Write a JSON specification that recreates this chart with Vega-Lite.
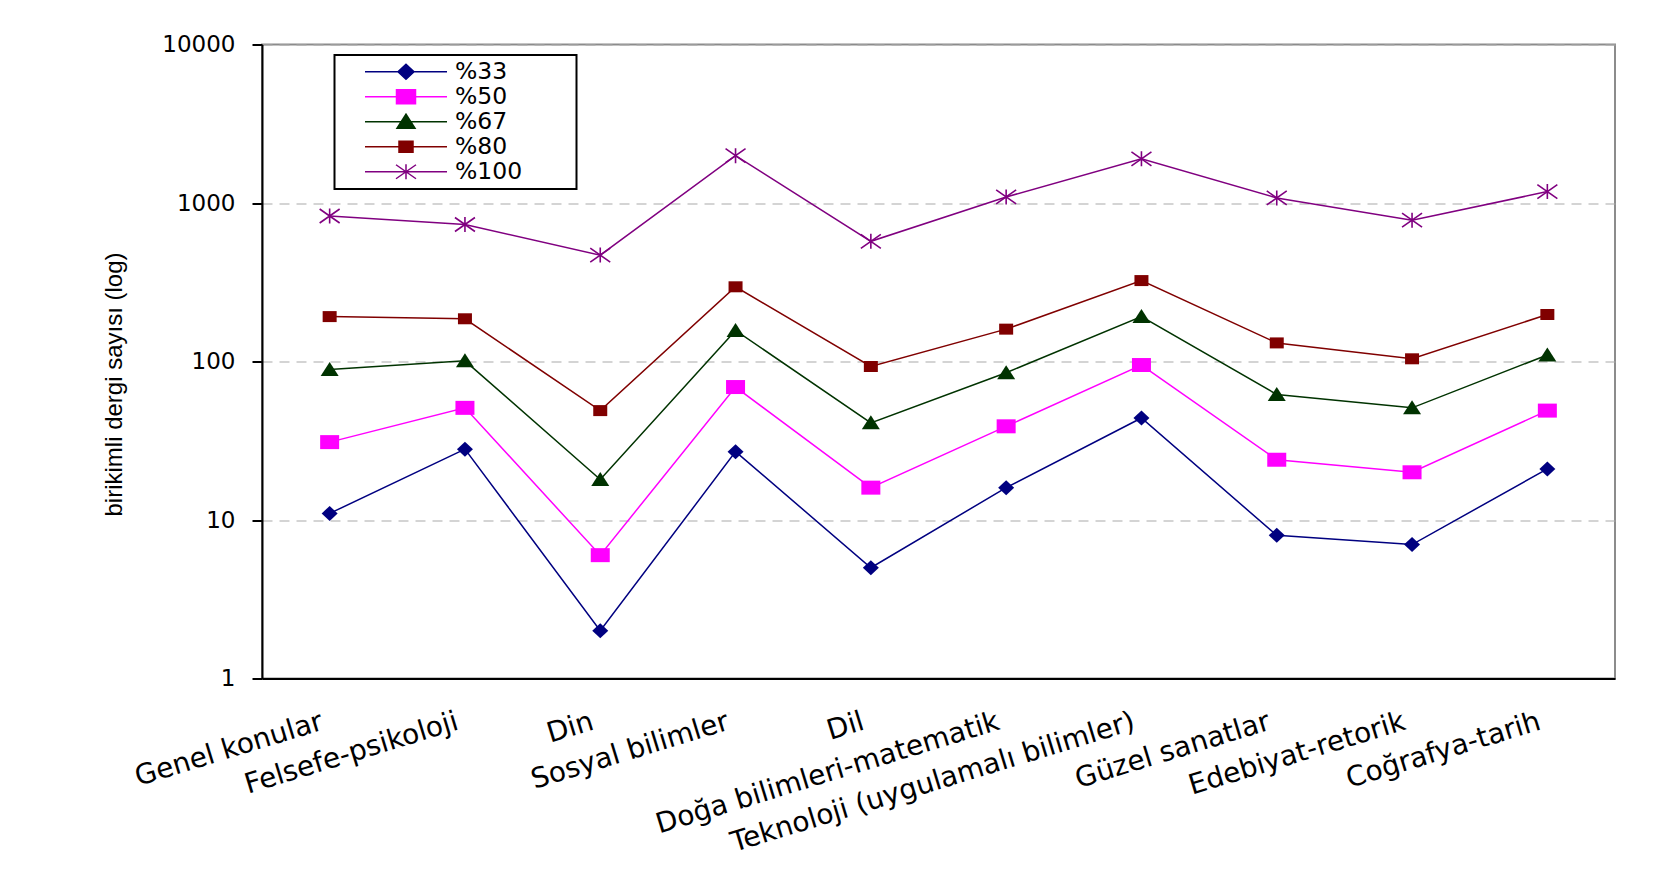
{
  "$schema": "https://vega.github.io/schema/vega-lite/v6.json",
  "width": 1353,
  "height": 634,
  "autosize": {"type": "none"},
  "padding": {"left": 262, "top": 44.5, "right": 45, "bottom": 208.5},
  "background": "white",
  "config": {
    "font": "DejaVu Sans",
    "view": {"stroke": "#8c8c8c", "strokeWidth": 2}
  },
  "data": {
    "values": [
      {"kategori": "Genel konular", "seri": "%33", "deger": 11},
      {"kategori": "Felsefe-psikoloji", "seri": "%33", "deger": 28},
      {"kategori": "Din", "seri": "%33", "deger": 2},
      {"kategori": "Sosyal bilimler", "seri": "%33", "deger": 27},
      {"kategori": "Dil", "seri": "%33", "deger": 5},
      {"kategori": "Doğa bilimleri-matematik", "seri": "%33", "deger": 16},
      {"kategori": "Teknoloji (uygulamalı bilimler)", "seri": "%33", "deger": 44},
      {"kategori": "Güzel sanatlar", "seri": "%33", "deger": 8},
      {"kategori": "Edebiyat-retorik", "seri": "%33", "deger": 7},
      {"kategori": "Coğrafya-tarih", "seri": "%33", "deger": 21},
      {"kategori": "Genel konular", "seri": "%50", "deger": 31},
      {"kategori": "Felsefe-psikoloji", "seri": "%50", "deger": 51},
      {"kategori": "Din", "seri": "%50", "deger": 6},
      {"kategori": "Sosyal bilimler", "seri": "%50", "deger": 69},
      {"kategori": "Dil", "seri": "%50", "deger": 16},
      {"kategori": "Doğa bilimleri-matematik", "seri": "%50", "deger": 39},
      {"kategori": "Teknoloji (uygulamalı bilimler)", "seri": "%50", "deger": 95},
      {"kategori": "Güzel sanatlar", "seri": "%50", "deger": 24},
      {"kategori": "Edebiyat-retorik", "seri": "%50", "deger": 20},
      {"kategori": "Coğrafya-tarih", "seri": "%50", "deger": 49},
      {"kategori": "Genel konular", "seri": "%67", "deger": 89},
      {"kategori": "Felsefe-psikoloji", "seri": "%67", "deger": 101},
      {"kategori": "Din", "seri": "%67", "deger": 18},
      {"kategori": "Sosyal bilimler", "seri": "%67", "deger": 157},
      {"kategori": "Dil", "seri": "%67", "deger": 41},
      {"kategori": "Doğa bilimleri-matematik", "seri": "%67", "deger": 85},
      {"kategori": "Teknoloji (uygulamalı bilimler)", "seri": "%67", "deger": 192},
      {"kategori": "Güzel sanatlar", "seri": "%67", "deger": 62},
      {"kategori": "Edebiyat-retorik", "seri": "%67", "deger": 51},
      {"kategori": "Coğrafya-tarih", "seri": "%67", "deger": 110},
      {"kategori": "Genel konular", "seri": "%80", "deger": 192},
      {"kategori": "Felsefe-psikoloji", "seri": "%80", "deger": 186},
      {"kategori": "Din", "seri": "%80", "deger": 49},
      {"kategori": "Sosyal bilimler", "seri": "%80", "deger": 296},
      {"kategori": "Dil", "seri": "%80", "deger": 93},
      {"kategori": "Doğa bilimleri-matematik", "seri": "%80", "deger": 160},
      {"kategori": "Teknoloji (uygulamalı bilimler)", "seri": "%80", "deger": 324},
      {"kategori": "Güzel sanatlar", "seri": "%80", "deger": 131},
      {"kategori": "Edebiyat-retorik", "seri": "%80", "deger": 104},
      {"kategori": "Coğrafya-tarih", "seri": "%80", "deger": 198},
      {"kategori": "Genel konular", "seri": "%100", "deger": 828},
      {"kategori": "Felsefe-psikoloji", "seri": "%100", "deger": 732},
      {"kategori": "Din", "seri": "%100", "deger": 469},
      {"kategori": "Sosyal bilimler", "seri": "%100", "deger": 1990},
      {"kategori": "Dil", "seri": "%100", "deger": 573},
      {"kategori": "Doğa bilimleri-matematik", "seri": "%100", "deger": 1092},
      {"kategori": "Teknoloji (uygulamalı bilimler)", "seri": "%100", "deger": 1900},
      {"kategori": "Güzel sanatlar", "seri": "%100", "deger": 1076},
      {"kategori": "Edebiyat-retorik", "seri": "%100", "deger": 779},
      {"kategori": "Coğrafya-tarih", "seri": "%100", "deger": 1180}
    ]
  },
  "encoding": {
    "x": {
      "field": "kategori",
      "type": "nominal",
      "sort": null,
      "scale": {
        "type": "point",
        "padding": 0.5,
        "domain": ["Genel konular", "Felsefe-psikoloji", "Din", "Sosyal bilimler", "Dil", "Doğa bilimleri-matematik", "Teknoloji (uygulamalı bilimler)", "Güzel sanatlar", "Edebiyat-retorik", "Coğrafya-tarih"]
      },
      "axis": {
        "title": null,
        "labelAngle": -17,
        "labelAlign": "right",
        "labelBaseline": "top",
        "labelFont": "DejaVu Sans",
        "labelFontSize": 28,
        "labelColor": "black",
        "labelPadding": 29,
        "labelOffset": -12,
        "labelLimit": 800,
        "labelOverlap": false,
        "ticks": false,
        "grid": false,
        "domainColor": "black",
        "domainWidth": 2
      }
    },
    "y": {
      "field": "deger",
      "type": "quantitative",
      "scale": {"type": "log", "domain": [1, 10000]},
      "axis": {
        "values": [1, 10, 100, 1000, 10000],
        "format": "d",
        "title": "birikimli dergi sayısı (log)",
        "titleFont": "Liberation Sans",
        "titleFontSize": 24,
        "titleFontWeight": "normal",
        "titleColor": "black",
        "titleAngle": 270,
        "titleX": -148,
        "titleY": 339.5,
        "titleAlign": "center",
        "titleBaseline": "middle",
        "grid": true,
        "gridDash": [10, 7],
        "gridColor": "#aaaaaa",
        "gridWidth": 1.2,
        "domainColor": "black",
        "domainWidth": 2,
        "tickColor": "black",
        "tickWidth": 2,
        "tickSize": 10,
        "labelFont": "DejaVu Sans",
        "labelFontSize": 23,
        "labelColor": "black",
        "labelPadding": 17
      }
    },
    "color": {
      "field": "seri",
      "type": "nominal",
      "scale": {
        "domain": ["%33", "%50", "%67", "%80", "%100"],
        "range": ["#000080", "#FF00FF", "#003300", "#800000", "#800080"]
      },
      "legend": {
        "orient": "none",
        "legendX": 72.5,
        "legendY": 10.5,
        "title": null,
        "direction": "vertical",
        "padding": 5,
        "strokeColor": "black",
        "fillColor": "white",
        "symbolSize": 100,
        "symbolOffset": 54.75,
        "labelOffset": 37.25,
        "labelFont": "DejaVu Sans",
        "labelFontSize": 23.5,
        "labelColor": "black",
        "rowPadding": 0,
        "encode": {
          "legend": {
            "update": {"strokeWidth": {"value": 2}}
          },
          "symbols": {
            "update": {
              "shape": {"signal": "datum.value === '%33' ? 'M-13.3,0M32.4,0M-8.2,0L8.2,0M0,-1.5L1.6,0L0,1.5L-1.6,0Z' : datum.value === '%50' ? 'M-13.3,0M32.4,0M-8.2,0L8.2,0M-1.9,-1.4L1.9,-1.4L1.9,1.4L-1.9,1.4Z' : datum.value === '%67' ? 'M-13.3,0M32.4,0M-8.2,0L8.2,0M0,-1.5L1.8,1.3L-1.8,1.3Z' : datum.value === '%80' ? 'M-13.3,0M32.4,0M-8.2,0L8.2,0M-1.4,-1.1L1.4,-1.1L1.4,1.1L-1.4,1.1Z' : 'M-13.3,0M32.4,0M-8.2,0L8.2,0M-2,-1.4L2,1.4M-2,1.4L2,-1.4M0,-1.5L0,1.5'"},
              "fill": {"signal": "scale('color', datum.value)"},
              "stroke": {"signal": "scale('color', datum.value)"},
              "strokeWidth": {"value": 1.5},
              "opacity": {"value": 1}
            }
          }
        }
      }
    }
  },
  "layer": [
    {
      "mark": {"type": "line", "strokeWidth": 1.5},
      "encoding": {}
    },
    {
      "transform": [{"filter": "datum.seri === '%33'"}],
      "mark": {"type": "point", "filled": true, "size": 100, "opacity": 1, "shape": "M0,-1.5L1.6,0L0,1.5L-1.6,0Z"}
    },
    {
      "transform": [{"filter": "datum.seri === '%50'"}],
      "mark": {"type": "point", "filled": true, "size": 100, "opacity": 1, "shape": "M-1.9,-1.4L1.9,-1.4L1.9,1.4L-1.9,1.4Z"}
    },
    {
      "transform": [{"filter": "datum.seri === '%67'"}],
      "mark": {"type": "point", "filled": true, "size": 100, "opacity": 1, "shape": "M0,-1.5L1.8,1.3L-1.8,1.3Z"}
    },
    {
      "transform": [{"filter": "datum.seri === '%80'"}],
      "mark": {"type": "point", "filled": true, "size": 100, "opacity": 1, "shape": "M-1.4,-1.1L1.4,-1.1L1.4,1.1L-1.4,1.1Z"}
    },
    {
      "transform": [{"filter": "datum.seri === '%100'"}],
      "mark": {"type": "point", "filled": false, "size": 100, "opacity": 1, "strokeWidth": 1.6, "shape": "M-2,-1.4L2,1.4M-2,1.4L2,-1.4M0,-1.5L0,1.5"}
    }
  ]
}
